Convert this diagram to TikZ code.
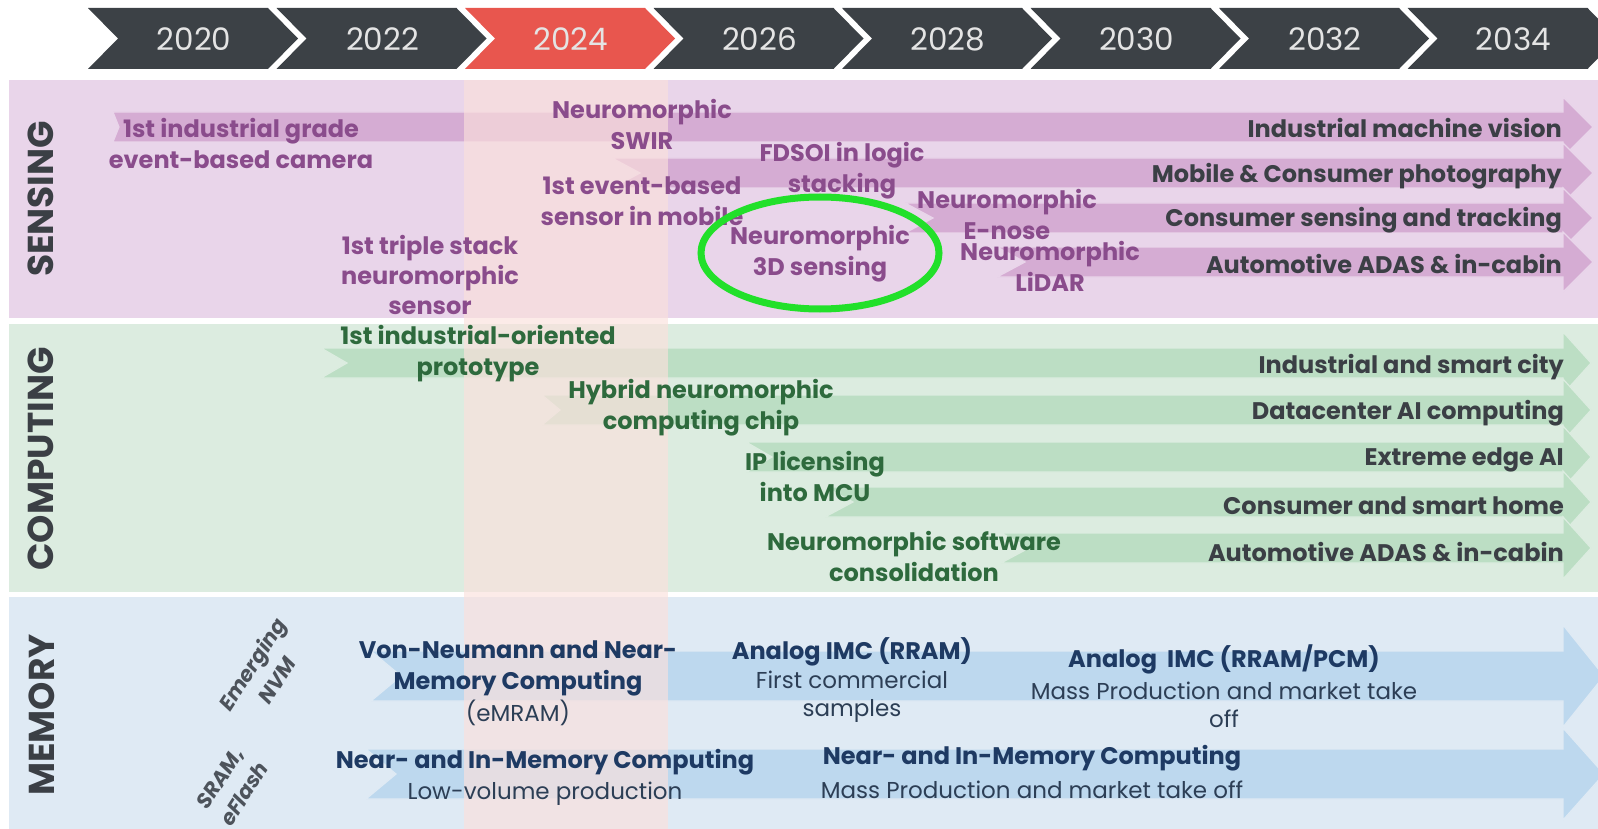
\documentclass[tikz,border=0pt]{standalone}
\usepackage{fontspec}
\setmainfont{Poppins}
\definecolor{hdrGray}{HTML}{3C4146}
\definecolor{hdrRed}{HTML}{E8564E}
\definecolor{yearTx}{HTML}{E4E4E4}
\definecolor{sensBg}{HTML}{E9D5EA}
\definecolor{compBg}{HTML}{DCECE0}
\definecolor{memBg}{HTML}{DFEAF4}
\definecolor{sensAr}{HTML}{D5ACD3}
\definecolor{compAr}{HTML}{BCDEC4}
\definecolor{memAr}{HTML}{BDD8EE}
\definecolor{overlayC}{HTML}{FBE0DC}
\definecolor{sensTx}{HTML}{8A4C8C}
\definecolor{compTx}{HTML}{2E6A3D}
\definecolor{memTx}{HTML}{1E3A63}
\definecolor{memSub}{HTML}{2C3E55}
\definecolor{darkTx}{HTML}{3B3F45}
\definecolor{nvmTx}{HTML}{4D535B}
\definecolor{ringG}{HTML}{22E02A}
\newcommand\bandarrow[7]{%
  \fill[#1] (#2,#4) -- (1563,#4) -- (1563,{(#4+#5)/2-#6}) -- (#7,{(#4+#5)/2})
    -- (1563,{(#4+#5)/2+#6}) -- (1563,#5) -- (#2,#5) -- ({#2+#3},{(#4+#5)/2}) -- cycle;}
\tikzset{
  yeartext/.style={text=yearTx, font=\fontsize{31}{31}\selectfont, inner sep=0},
  sectlabel/.style={text=darkTx, font=\bfseries\fontsize{36}{36}\selectfont, rotate=90, inner sep=0},
  sens/.style={text=sensTx, font=\bfseries\fontsize{24}{31}\selectfont, align=center, inner sep=0},
  comp/.style={text=compTx, font=\bfseries\fontsize{24}{31}\selectfont, align=center, inner sep=0},
  rlabel/.style={text=darkTx, font=\bfseries\fontsize{24}{30}\selectfont, anchor=east, inner sep=0},
  memtitle/.style={text=memTx, font=\bfseries\fontsize{24}{31}\selectfont, align=center, inner sep=0},
  memsub/.style={text=memSub, font=\fontsize{23}{28}\selectfont, align=center, inner sep=0},
  nvm/.style={text=nvmTx, font=\bfseries\itshape\fontsize{21}{29}\selectfont, align=center, rotate=57, inner sep=0},
  sensband/.style={fill=sensAr, draw=sensBg, line width=1.2pt},
  compband/.style={fill=compAr, draw=compBg, line width=1.2pt},
  memband/.style={fill=memAr, draw=memBg, line width=1.2pt},
}
\begin{document}
\begin{tikzpicture}[x=1pt,y=-1pt]
\useasboundingbox (0,0) rectangle (1598,829);
\begin{scope}
\clip (0,0) rectangle (1598,829);
% header chevrons
\foreach \i/\yr in {0/2020,1/2022,2/2024,3/2026,4/2028,5/2030,6/2032,7/2034}{
  \pgfmathsetmacro\L{88+188.5*\i}
  \ifnum\i=2 \def\cc{hdrRed}\else\def\cc{hdrGray}\fi
  \fill[\cc] (\L,8) -- ++(180,0) -- ++(30,30.5) -- ++(-30,30.5) -- ++(-180,0) -- ++(30,-30.5) -- cycle;
  \node[yeartext] (y\yr) at ({\L+106},39) {\yr};
}
% section backgrounds
\fill[sensBg] (9,80) rectangle (1598,318);
\fill[compBg] (9,324) rectangle (1598,592);
\fill[memBg] (9,597) rectangle (1598,829);
% sensing bands
\bandarrow{sensband}{113}{6}{112}{142}{30}{1593}
\bandarrow{sensband}{612}{28}{158}{188}{30}{1593}
\bandarrow{sensband}{905}{28}{203}{233}{30}{1593}
\bandarrow{sensband}{997}{28}{247}{277}{30}{1593}
% computing bands
\bandarrow{compband}{321}{26}{348}{378}{31}{1591}
\bandarrow{compband}{542}{18}{395}{425}{31}{1591}
\bandarrow{compband}{746}{26}{442}{472}{31}{1591}
\bandarrow{compband}{825}{28}{487}{517}{31}{1591}
\bandarrow{compband}{1001}{28}{533}{563}{31}{1591}
% memory bands
\bandarrow{memband}{371}{30}{651}{701}{51}{1604}
\bandarrow{memband}{366}{30}{749}{799}{46}{1604}
% 2024 column overlay
\fill[overlayC, opacity=0.65] (464,80) rectangle (668,829);
\end{scope}
% section labels
\node[sectlabel] (lsens) at (41,199) {SENSING};
\node[sectlabel] (lcomp) at (41,459) {COMPUTING};
\node[sectlabel] (lmem) at (42,715) {MEMORY};
\node[nvm] (nvm) at (264,672) {Emerging\\NVM};
\node[nvm] (sram) at (232,786) {SRAM,\\eFlash};
% sensing milestones
\node[sens] (s1) at (241,143) {1st industrial grade\\event-based camera};
\node[sens] (s2) at (642,124) {Neuromorphic\\SWIR};
\node[sens] (s3) at (842,171) {FDSOI in logic\\stacking};
\node[sens] (s4) at (642,201) {1st event-based\\sensor in mobile};
\node[sens] (s5) at (1007,214) {Neuromorphic\\E-nose};
\node[sens] (s6) at (1050,266) {Neuromorphic\\LiDAR};
\node[sens, font=\bfseries\fontsize{24}{30}\selectfont] (s7) at (430,275) {1st triple stack\\neuromorphic\\sensor};
\node[sens] (s8) at (820,254) {Neuromorphic\\3D sensing};
% sensing markets
\node[rlabel] (r1) at (1562,128) {Industrial machine vision};
\node[rlabel] (r2) at (1562,176) {Mobile \& Consumer photography};
\node[rlabel] (r3) at (1562,220) {Consumer sensing and tracking};
\node[rlabel] (r4) at (1562,264) {Automotive ADAS \& in-cabin};
% computing milestones
\node[comp] (c1) at (478,354) {1st industrial-oriented\\prototype};
\node[comp] (c2) at (701,408) {Hybrid neuromorphic\\computing chip};
\node[comp] (c3) at (815,476) {IP licensing\\into MCU};
\node[comp] (c4) at (914,556) {Neuromorphic software\\consolidation};
% computing markets
\node[rlabel] (q1) at (1564,367) {Industrial and smart city};
\node[rlabel] (q2) at (1564,413) {Datacenter AI computing};
\node[rlabel] (q3) at (1564,460) {Extreme edge AI};
\node[rlabel] (q4) at (1564,506) {Consumer and smart home};
\node[rlabel] (q5) at (1564,552) {Automotive ADAS \& in-cabin};
% memory
\node[memtitle] (m1) at (518,668) {Von-Neumann and Near-\\Memory Computing};
\node[memsub] (m1s) at (518,713) {(eMRAM)};
\node[memtitle] (m2) at (852,652) {Analog IMC (RRAM)};
\node[memsub] (m2s) at (852,697) {First commercial\\samples};
\node[memtitle] (m3) at (1224,659) {Analog\ \ IMC (RRAM/PCM)};
\node[memsub] (m3s) at (1224,705) {Mass Production and market take\\off};
\node[memtitle] (m4) at (545,762) {Near- and In-Memory Computing};
\node[memsub] (m4s) at (545,794) {Low-volume production};
\node[memtitle] (m5) at (1032,758) {Near- and In-Memory Computing};
\node[memsub] (m5s) at (1032,790) {Mass Production and market take off};
% highlight ring
\draw[ringG, line width=7pt] (820,253) ellipse [x radius=119pt, y radius=56pt];
\end{tikzpicture}
\end{document}
